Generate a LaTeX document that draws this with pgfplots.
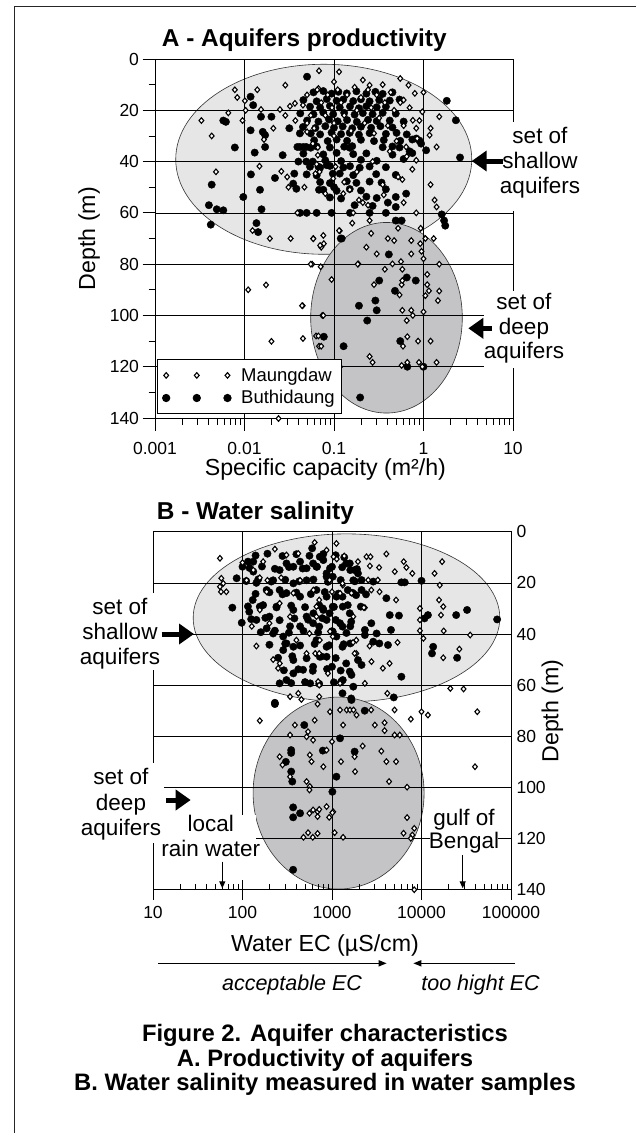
\documentclass[border=0pt]{standalone}
\usepackage{fontspec}
\setmainfont{Liberation Sans}
\usepackage{pgfplots}
\usepackage{pgfplotstable}
\pgfplotsset{compat=1.18}
\usetikzlibrary{arrows.meta}
\definecolor{shal}{RGB}{230,230,230}
\definecolor{deepc}{RGB}{196,196,198}

% ---------- Top panel: Maungdaw (diamonds) ----------
\pgfplotstableread{
x y
0.0033 24
0.0043 30
0.0048 44
0.0078 12
0.0083 15
0.0066 21
0.0095 24
0.0103 20
0.0101 16.3
0.0139 12
0.0153 19.7
0.021 27
0.0165 31.4
0.0147 41.8
0.0249 19.7
0.0286 22
0.0286 10.2
0.0322 18.4
0.0366 17.3
0.037 24
0.0258 43.8
0.030 46
0.031 50
0.0467 50
0.039 60
0.0328 70
0.0192 70
0.0123 66.9
0.0587 70
0.076 68.8
0.067 11.5
0.068 4.6
0.1 8.9
0.114 5
0.05 25
0.05 28.4
0.066 34.5
0.066 37.5
0.064 41
0.062 44.7
0.08 52.5
0.164 60
0.127 52.5
0.104 42
0.21 8.2
0.25 10.2
0.55 7.6
0.68 10.2
0.8 13.4
0.6 16
0.97 20.6
1.5 22.5
0.76 23.9
0.83 27
1.17 29.7
1.4 34.3
0.64 34.3
0.83 39.5
0.52 46
1.2 49
1.33 55
1.4 57.7
0.83 60
0.16 64
0.25 63
0.116 67
1.3 70
0.52 66
0.93 66
0.26 68
0.098 46.6
0.35 49
0.15 51
0.19 55
0.21 56
0.045 18
0.05 14
0.055 22
0.06 27
0.065 12
0.072 17
0.08 22
0.085 14
0.095 19
0.1 25
0.11 12
0.12 17
0.13 22
0.14 14
0.155 28
0.17 11
0.18 20
0.2 15
0.22 25
0.24 12
0.26 19
0.28 29
0.3 14
0.32 23
0.35 10
0.37 17
0.4 26
0.43 13
0.47 20
0.5 32
0.55 17
0.6 26
0.7 19
0.9 24
1.0 13
1.2 27
0.65 38
0.75 43
0.85 31
0.58 47
0.42 36
0.27 40
0.18 44
0.13 48
0.1 30
0.069 44
0.058 33
0.36 53
0.6 56
0.24 57
0.0587 70.1
0.077 72
0.072 73.4
0.114 66.9
0.23 73.4
0.3 76
0.4 70
0.47 70.8
0.73 70.8
0.73 76
0.92 72
0.95 75
1.05 70
1.0 77.9
0.187 79.9
0.057 80
0.071 81
0.094 86
0.45 79.9
0.56 79
0.37 82
0.58 82
0.28 88
0.54 92
0.57 88
0.58 86.4
1.1 84
1.1 88
1.15 90.4
1.05 92.3
1.5 90.5
1.45 94.2
1.5 80
0.074 100
0.58 98
0.73 98
0.76 100
0.65 102
1.0 98.6
0.063 108
0.068 112
0.0447 96.2
0.045 109
0.66 108.3
0.59 112
0.87 110
1.2 110
0.25 116
0.27 118.3
0.117 120
0.57 119.5
0.66 118.3
0.89 118.3
0.97 120
1.4 118.3
0.011 90
0.0174 88.1
0.07 72.7
0.055 80
0.044 96.2
0.076 100
0.020 110.1
0.067 108
0.072 112
0.024 140.2
0.184 80
}\topM

% ---------- Top panel: Buthidaung (circles) ----------
\pgfplotstableread{
x y
0.050 6.9
0.0117 14.7
0.0125 18
0.0058 24
0.0062 24.5
0.0153 22.5
0.020 22.5
0.0117 27.8
0.016 28.4
0.017 29.7
0.017 34.3
0.013 36.5
0.0078 34.5
0.0267 37.5
0.0317 27
0.0416 29
0.0416 34.3
0.039 34.3
0.049 34.3
0.040 40
0.049 40
0.058 40
0.067 42
0.083 41.4
0.036 44.7
0.035 48.6
0.038 50.6
0.0219 46.4
0.0118 45
0.0149 51
0.0097 53.8
0.0043 49
0.0040 57
0.0049 58.6
0.0058 59
0.0155 58.6
0.0042 64.6
0.0136 64
0.0142 67.5
0.064 60
0.094 60
0.122 70
0.068 51
0.1 50
0.097 44.7
1.82 16.3
2.3 23.9
2.56 38.4
1.75 65
1.7 63
1.6 60.6
0.0417 60
0.0495 60
0.151 60
0.25 60
0.38 60
0.49 63
0.57 63
0.83 31
0.94 33
1.07 35.6
0.7 36
0.6 39
0.64 52.5
0.49 57.7
0.40 56
0.059 13
0.076 12.5
0.094 13.5
0.112 12.8
0.139 13.4
0.178 12.6
0.23 13.5
0.29 12.8
0.35 13.6
0.45 13
0.0455 16
0.064 16.5
0.083 15.6
0.107 16.3
0.127 15.8
0.164 16.4
0.2 15.7
0.25 16.5
0.32 16
0.42 16.2
0.54 15.8
0.054 18.6
0.07 19
0.09 18.3
0.116 18.9
0.151 18.5
0.19 19.2
0.23 18.4
0.3 18.8
0.38 18.6
0.042 21.2
0.059 21.6
0.076 20.9
0.098 21.5
0.13 21
0.17 21.7
0.21 21.1
0.27 21.5
0.35 21
0.49 21.3
0.05 24
0.067 24.4
0.088 23.6
0.11 24.3
0.14 23.8
0.18 24.5
0.24 23.7
0.3 24.2
0.42 24
0.6 24.4
0.045 26.5
0.062 26.9
0.08 26.2
0.1 26.8
0.125 26.3
0.16 27
0.2 26.4
0.26 26.8
0.33 26.2
0.45 26.7
0.055 29
0.07 29.4
0.094 28.7
0.12 29.3
0.15 28.8
0.19 29.5
0.25 28.9
0.38 29.2
0.5 28.8
0.65 29.4
0.06 31.7
0.085 32
0.107 31.4
0.14 31.9
0.2 31.5
0.28 32
0.36 31.6
0.55 31.9
0.75 31.4
0.9 31.8
0.0455 34.3
0.055 34.6
0.064 34.1
0.09 34.5
0.13 34.2
0.15 34.6
0.16 34
0.35 34.4
0.45 34.1
0.54 34.5
0.0455 36.9
0.076 37.2
0.107 36.6
0.164 37.1
0.23 36.8
0.45 37.3
0.75 36.7
0.08 39.5
0.12 39.8
0.2 39.3
0.3 39.7
0.054 42
0.07 42.4
0.09 41.7
0.127 42.3
0.151 41.8
0.194 42.4
0.25 41.9
0.38 42.2
0.0495 45
0.064 45.4
0.116 44.7
0.164 45.3
0.296 44.9
0.49 45.2
0.07 48
0.09 48.4
0.139 47.7
0.178 48.3
0.25 47.8
0.34 48.2
0.076 51
0.107 51.4
0.15 50.7
0.2 51.3
0.38 50.8
0.09 54
0.12 54.4
0.23 53.7
0.3 54.2
0.49 53.8
0.17 57
0.27 57.3
0.119 70
0.41 76.2
0.32 86.4
0.65 85.2
0.82 86.4
0.48 90.4
0.19 96.2
0.29 94.2
0.3 98
0.235 102
0.077 108.3
0.128 112
0.55 110
0.66 120
1.0 120
0.196 132
}\topB

% ---------- Bottom panel: Maungdaw (diamonds) ----------
\pgfplotstableread{
x y
56 10.4
100 12.1
58 18.2
61 20.2
56 21.5
66 23.5
57.5 23.5
127 37
143 44.7
220 50
261 51.5
250 53.4
170 11.7
230 6.8
310 9.1
420 8.5
640 4.2
870 7.2
1120 4.6
370 24
400 42.4
520 47.6
650 47.6
730 42.4
670 29.3
950 39
1000 23.5
1320 20.9
1650 24
1730 33.2
1870 42.4
1870 47.6
1230 59.3
700 58.6
420 63.2
455 65.6
340 64.5
720 64.5
186 23.5
132 15
190 19
270 18
111 19
156 18
440 19
260 28
340 33.2
156 30.6
200 35.8
1130 10.7
1040 9.8
1370 9.5
1950 11.7
2430 9.8
2690 9.8
2650 13.4
3360 14
4050 8.7
5030 15.6
6330 11.7
6780 14
7900 16.3
14000 16.3
17000 11.7
16000 20.9
9600 30
9600 34.5
9600 38.7
10500 41.7
15700 26.7
17500 29.3
16500 32.6
17700 38.8
35000 40.4
26500 45.9
17500 49.3
21000 61.3
29500 61.5
4400 51.5
3700 53.4
4150 63.2
5400 43.3
2630 44.7
2760 50.8
1720 43.3
1790 47.6
2330 29.7
2270 29.7
2750 22.8
3400 23.5
5200 26.7
3250 18.9
2540 18.9
2330 59.3
720 60
900 55.4
720 47.6
1020 41
560 39.8
670 33.2
720 26.7
620 22.8
940 18.9
1310 20.2
1230 24.1
156 73.9
385 75.6
540 78.2
520 80.2
615 81.5
640 73.7
340 79.5
690 67.4
1000 82.1
950 70.4
1330 75.6
1230 69.7
1460 69.7
1590 69.7
1740 69.7
1880 71.7
1810 93.8
1260 89.9
800 91.9
565 87.3
590 89.9
280 91.2
260 88
340 95.8
520 97.7
565 99.6
560 101
870 85.4
615 108.8
690 109.5
870 107.5
1030 109.5
930 111.7
690 111.4
560 110.1
540 117.7
480 119.5
610 119.5
690 118
1070 117.7
1330 119.5
2740 69.7
5000 69.7
10000 70.4
11800 71.7
7600 73.3
42000 70.4
3010 75.6
3870 74.7
3870 77.8
5000 79.5
5720 79.5
2200 83.8
1790 88
3560 85.8
4050 89.9
5200 89.9
4340 97.7
6900 99.9
6900 111.8
6300 117.9
8300 116
7900 118.6
7600 119.9
39600 91.9
8300 140
1010 109.9
720 108.6
}\botM

% ---------- Bottom panel: Buthidaung (circles) ----------
\pgfplotstableread{
x y
77 29.7
86 18.2
98 35.6
100 13.7
115 11.7
132 11.7
132 15.6
143 20
130 26.7
156 29.3
119 31.3
143 34.5
200 33.2
186 37.8
220 39.8
285 41
285 46.3
310 43.7
370 45
370 50.2
310 58
260 59.3
370 55.4
475 54
615 52.8
570 59.3
230 66.9
186 22.8
220 19
260 15
310 12.4
370 13.7
440 11.7
520 14.3
615 12.4
730 9.8
600 6.5
370 20.2
520 19
310 24
440 25.4
260 22.8
240 29.3
370 30.6
520 33.2
615 35.8
440 37
340 37
870 34.5
1230 35.8
1320 29.3
1120 25.4
870 25.4
870 17.6
1000 13.7
1440 12.4
1600 15
1730 19
670 22.8
800 30.6
730 48.9
1000 52.8
1440 51.5
1320 58
1730 60.6
870 45
1120 41
1600 37
1600 43.7
1370 10
1580 12.4
1790 15
1950 16.3
2140 18.9
2890 19.5
5960 19.8
6500 19.8
10000 19.2
4050 26
4420 32.6
5600 32.8
10800 33.9
11800 32.6
24400 32.6
32300 30.6
70000 34.3
13500 45
13100 47.6
25000 49.3
5960 56.7
4900 64.8
3380 43.7
2890 43
4220 44.3
3150 39.8
2330 38.4
2330 40.4
4560 38.4
2750 35.8
1580 31.9
1640 35.2
1310 37.1
1020 39.1
1310 45
1950 50.2
2140 52.1
1580 54.7
1270 58.6
870 48.9
670 42.4
720 37.1
940 31.9
1020 29.3
790 30
620 31.9
1310 25.4
1500 22.8
1860 24.8
2140 22.8
1020 17.6
870 16.3
670 13.7
800 11.1
1650 56
1640 65.2
1310 63.2
230 67.4
490 75.6
350 85.4
350 86.5
305 90
350 93.8
360 97.7
790 85.6
1230 80.8
1120 95.8
1010 101.7
368 107.8
440 110.1
368 111.7
368 132.2
1650 65.8
2320 70
1790 86
140 9.3
190 8.6
280 9.5
400 8.8
560 9.4
800 8.7
1100 9.2
120 14.2
165 13.6
230 14.5
330 13.8
470 14.4
680 13.7
950 14.3
1300 13.9
1900 14.6
110 19.3
150 18.6
210 19.5
300 18.8
430 19.4
620 18.7
900 19.6
1250 18.9
1800 19.4
140 24.3
200 23.7
280 24.5
400 23.8
580 24.4
830 23.6
1180 24.2
1700 23.9
2400 24.5
115 29.2
170 28.7
240 29.6
350 28.9
500 29.5
720 28.8
1050 29.4
1500 28.7
2100 29.3
125 34.2
180 33.7
260 34.6
380 33.9
540 34.4
780 33.8
1100 34.5
160 39.3
230 38.7
330 39.5
480 38.8
700 39.4
1000 38.9
1450 39.6
200 44.2
300 43.8
440 44.5
640 43.9
930 44.4
1350 44
250 49.3
360 48.7
520 49.5
760 48.8
1100 49.4
290 54.2
420 53.8
610 54.4
880 53.7
1250 54.3
350 59.2
500 58.8
720 59.5
1050 58.9
}\botB

\begin{document}
\begin{tikzpicture}[x=1pt,y=1pt]
\fill[white] (0,0) rectangle (636,-1133);
\draw[line width=1pt, black!85] (14.3,-1133) -- (14.3,-6.7) -- (640,-6.7);

% ================= TOP PANEL: ellipses =================
\begin{axis}[scale only axis, width=358pt, height=359pt, xmode=log,
  ymin=0, ymax=140, y dir=reverse, xmin=0.001, xmax=10, hide axis,
  at={(155pt,-418pt)}, anchor=south west]
\draw[fill=shal, draw=black!80, line width=0.6pt] (axis cs:0.0768,39.1) ellipse [x radius=148pt, y radius=95pt];
\draw[fill=deepc, draw=black!80, line width=0.6pt] (axis cs:0.386,100.9) ellipse [x radius=75.8pt, y radius=95.3pt];
\end{axis}

% ================= TOP PANEL =================
\begin{axis}[scale only axis, width=358pt, height=359pt, xmode=log,
  ymin=0, ymax=140, y dir=reverse,
  grid=major, major grid style={black, line width=0.7pt},
  axis line style={line width=0.9pt},
  tick style={black, line width=0.8pt},
  ytick={0,20,...,140},
  ticklabel style={font=\fontsize{17.5}{20}\selectfont},
  xticklabel style={yshift=-8pt},
  /pgf/number format/assume math mode=true,
  clip=false,
  at={(155pt,-418pt)}, anchor=south west,
  xmin=0.001, xmax=10,
  xtick={0.001,0.01,0.1,1,10}, xticklabels={0.001,0.01,0.1,1,10},
  minor xtick={0.002,0.003,0.004,0.005,0.006,0.007,0.008,0.009,0.02,0.03,0.04,0.05,0.06,0.07,0.08,0.09,0.2,0.3,0.4,0.5,0.6,0.7,0.8,0.9,2,3,4,5,6,7,8,9},
  minor ytick={10,30,...,130},
  xtick pos=bottom, ytick pos=left,
  tick align=outside, major tick length=12.5pt, minor tick length=6.5pt,
  reverse legend,
  legend style={at={(0.0064,0.011)}, anchor=south west, draw=black, fill=white,
    line width=0.8pt, font=\fontsize{18.5}{20}\selectfont,
    inner xsep=4.8pt, inner ysep=6.2pt, row sep=3.7pt, column sep=8pt},
  legend cell align=left,
]
\addplot[only marks, mark=*, mark size=3.7pt, black,
  legend image code/.code={\draw[black, only marks, mark=*, mark size=3.7pt] plot coordinates {(0pt,0pt) (30.6pt,0pt) (61.3pt,0pt)};}]
  table {\topB};
\addlegendentry{Buthidaung}
\addplot[only marks, mark=diamond*, mark size=2.8pt, draw=black, fill=white,
  mark options={xscale=1.15, line width=1.1pt, fill=white},
  legend image code/.code={\draw[black, fill=white, only marks, mark=diamond*, mark size=2.8pt, mark options={xscale=1.15, line width=1.1pt, fill=white}] plot coordinates {(0pt,0pt) (30.6pt,0pt) (61.3pt,0pt)};}]
  table {\topM};
\addlegendentry{Maungdaw}
\end{axis}

% ================= BOTTOM PANEL: ellipses =================
\begin{axis}[scale only axis, width=358pt, height=358pt, xmode=log,
  ymin=0, ymax=140, y dir=reverse, xmin=10, xmax=100000, hide axis,
  at={(153pt,-889.7pt)}, anchor=south west]
\draw[fill=shal, draw=black!80, line width=0.6pt] (axis cs:1452,33.7) ellipse [x radius=153.3pt, y radius=84pt];
\draw[fill=deepc, draw=black!80, line width=0.6pt] (axis cs:1185,102.2) ellipse [x radius=85.5pt, y radius=96pt];
\end{axis}

% ================= BOTTOM PANEL =================
\begin{axis}[scale only axis, width=358pt, height=358pt, xmode=log,
  ymin=0, ymax=140, y dir=reverse,
  grid=major, major grid style={black, line width=0.7pt},
  axis line style={line width=0.9pt},
  tick style={black, line width=0.8pt},
  ytick={0,20,...,140},
  ticklabel style={font=\fontsize{17.5}{20}\selectfont},
  xticklabel style={yshift=-3pt},
  /pgf/number format/assume math mode=true,
  clip=false,
  at={(153pt,-889.7pt)}, anchor=south west,
  xmin=10, xmax=100000,
  xtick={10,100,1000,10000,100000}, xticklabels={10,100,1000,10000,100000},
  minor xtick={20,30,40,50,60,70,80,90,200,300,400,500,600,700,800,900,2000,3000,4000,5000,6000,7000,8000,9000,20000,30000,40000,50000,60000,70000,80000,90000},
  xtick pos=bottom, ytick pos=right, yticklabel pos=right,
  tick align=center, major tick length=20pt, minor tick length=6pt,
  minor x tick style={yshift=3pt},
  y tick style={draw=none},
  yticklabel style={anchor=west, xshift=-8pt},
]
\addplot[only marks, mark=*, mark size=3.7pt, black] table {\botB};
\addplot[only marks, mark=diamond*, mark size=2.8pt, draw=black, fill=white,
  mark options={xscale=1.15, line width=1.1pt, fill=white}] table {\botM};
\end{axis}

% ================= label boxes (hide lines) =================
\fill[white] (500,-122) rectangle (585,-211);
\fill[white] (484,-291) rectangle (590,-367.5);
\fill[white] (75,-593) rectangle (165,-670);
\fill[white] (75,-763) rectangle (163.5,-843);
\fill[white] (163.5,-815) rectangle (256,-880);
\fill[white] (430,-807) rectangle (498,-855);

\begin{scope}[every node/.style={inner sep=0pt, font=\fontsize{22.5}{25}\selectfont}]
\node[anchor=base] at (540,-143) {set of};
\node[anchor=base] at (540,-168) {shallow};
\node[anchor=base] at (540,-193) {aquifers};
\node[anchor=base] at (524,-309) {set of};
\node[anchor=base] at (524,-334) {deep};
\node[anchor=base] at (524,-358.3) {aquifers};
\node[anchor=base] at (120,-614) {set of};
\node[anchor=base] at (120,-639.3) {shallow};
\node[anchor=base] at (120,-664) {aquifers};
\node[anchor=base] at (121,-784) {set of};
\node[anchor=base] at (121,-810) {deep};
\node[anchor=base] at (121,-835) {aquifers};
\node[anchor=base] at (210.8,-831.7) {local};
\node[anchor=base] at (210.8,-856.7) {rain water};
\node[anchor=base] at (464,-825) {gulf of};
\node[anchor=base] at (464,-848.3) {Bengal};
\end{scope}

% big arrows
\draw[line width=5pt, -{Triangle[length=15pt,width=20pt]}] (503,-161) -- (471.7,-161);
\draw[line width=5pt, -{Triangle[length=15pt,width=20pt]}] (491.7,-328.3) -- (468.3,-328.3);
\draw[line width=5pt, -{Triangle[length=15pt,width=20pt]}] (161.7,-634) -- (194,-634);
\draw[line width=5pt, -{Triangle[length=15pt,width=20pt]}] (166,-800) -- (190.7,-800);
% thin arrows
\draw[line width=1.3pt, -{Triangle[length=7pt,width=6pt]}] (222.3,-861.7) -- (222.3,-888.3);
\draw[line width=1.3pt, -{Triangle[length=7pt,width=6pt]}] (462.7,-855) -- (462.7,-888.3);
\draw[line width=1.5pt, -{Triangle[length=8pt,width=6pt]}] (158.3,-963.3) -- (386.7,-963.3);
\draw[line width=1.5pt, -{Triangle[length=8pt,width=6pt]}] (515,-963.3) -- (413.3,-963.3);

% titles and labels
\node[anchor=base west, inner sep=0pt, font=\fontsize{24.4}{28}\selectfont\bfseries] at (161.7,-46.5) {A - Aquifers productivity};
\node[anchor=base west, inner sep=0pt, font=\fontsize{24.4}{28}\selectfont\bfseries] at (156.7,-519.3) {B - Water salinity};
\node[anchor=base, inner sep=0pt, font=\fontsize{23.2}{26}\selectfont] at (325.4,-475) {Specific capacity (m²/h)};
\node[anchor=base, inner sep=0pt, font=\fontsize{23.2}{26}\selectfont] at (325,-951) {Water EC (µS/cm)};
\node[anchor=base, rotate=90, inner sep=0pt, font=\fontsize{23.2}{26}\selectfont] at (95,-238.5) {Depth (m)};
\node[anchor=base, rotate=90, inner sep=0pt, font=\fontsize{23.2}{26}\selectfont] at (558.4,-711) {Depth (m)};
\node[anchor=base, inner sep=0pt, font=\fontsize{21.5}{24}\selectfont\itshape] at (292,-990) {acceptable EC};
\node[anchor=base, inner sep=0pt, font=\fontsize{21.5}{24}\selectfont\itshape] at (480.5,-990) {too hight EC};
\begin{scope}[every node/.style={anchor=base, inner sep=0pt, font=\fontsize{23.8}{26}\selectfont\bfseries}]
\node at (325,-1041.7) {Figure 2. Aquifer characteristics};
\node at (325,-1066.7) {A. Productivity of aquifers};
\node at (325,-1090.7) {B. Water salinity measured in water samples};
\end{scope}
\pgfresetboundingbox
\path[use as bounding box] (0,0) rectangle (636,-1133);
\end{tikzpicture}
\end{document}
